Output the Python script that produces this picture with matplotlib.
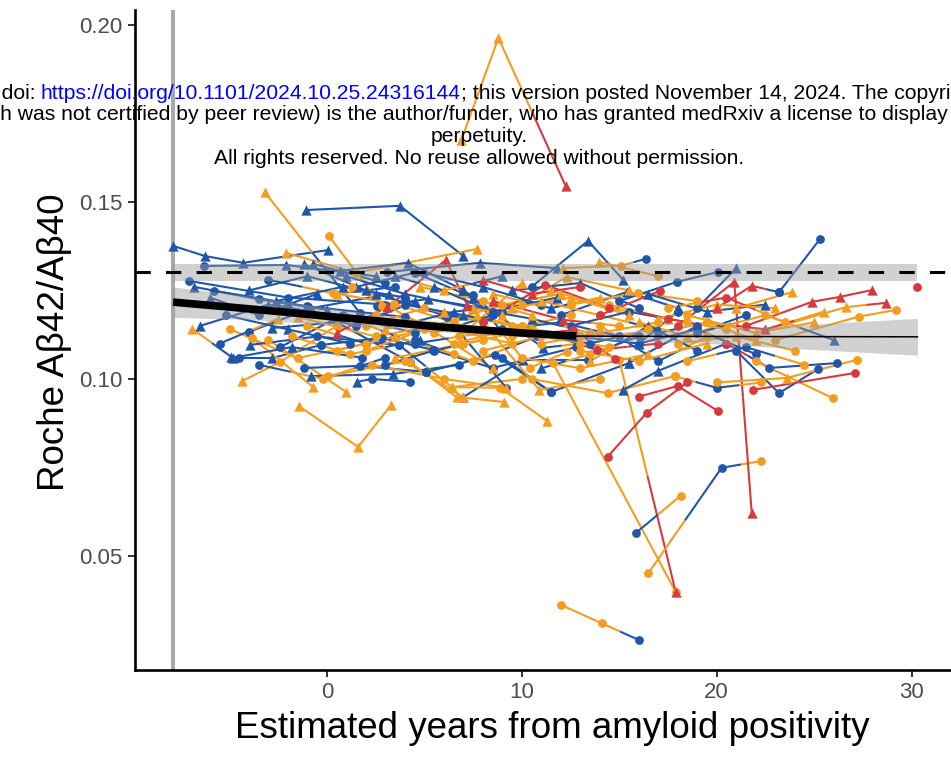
import matplotlib.pyplot as plt
from matplotlib.collections import LineCollection

plt.rcParams['font.family'] = ['Liberation Sans', 'DejaVu Sans']

# colour per visit (b = blue, o = orange, r = red) and marker per visit (c = circle, t = triangle)
palette = {'b': '#1f56a8', 'o': '#f49d1e', 'r': '#d63a3c'}
shapes = {'c': 'o', 't': '^'}

# one entry per participant trajectory
traj_x = [
    [-7.9, -6.25, -4.3, 0.05], [-7.1, -2.0, 3.0], [-5.8, -1.0, 4.0], [-6.3, -2.1, 2.5],
    [-6.9, -4.9], [-4.5, -2.8, -0.3], [-4.35, -2.4, 0.5], [-1.45, 1.6, 3.3],
    [-3.0, 1.0], [-3.85, -0.7], [-1.2, 1.7, 5.1], [-0.8, 3.4, 6.8],
    [-0.3, 2.8, 5.45], [-5.0, -1.5, 2.0], [-3.95, -0.5, 3.7], [-2.8, 0.5, 4.25],
    [-3.2, 1.7], [-1.1, 3.75, 7.0], [-2.1, 1.5, 7.7], [-1.2, 2.0, 6.0],
    [-0.7, 3.0], [-4.0, -0.8, 3.2], [-6.5, -3.0, 1.0], [-5.5, -2.5],
    [-2.4, 0.8, 4.5], [-6.0, -3.5, -0.5], [-1.5, 2.5, 5.5], [-4.0, -1.0, 2.5],
    [-3.0, 0.5, 3.5], [-2.0, 1.5, 4.5], [-1.0, 2.0, 5.0], [0.1, 2.8],
    [0.67, 4.15, 7.0], [3.1, 7.85, 11.8], [0.05, 4.0, 7.0], [1.55, 2.3, 4.25],
    [0.3, 3.45, 6.5], [1.3, 5.0, 8.5], [0.5, 3.1, 6.1, 7.2], [2.55, 5.2, 9.0],
    [1.0, 4.5, 8.0], [2.0, 5.5, 9.5], [2.3, 6.0, 9.2], [3.7, 6.4, 10.0],
    [4.25, 6.65, 9.1], [5.1, 8.6, 11.5], [5.45, 8.5, 12.8], [6.15, 9.2],
    [9.0, 11.5, 15.5], [7.0, 10.05, 13.4], [6.4, 8.9, 11.3], [7.0, 11.1, 13.0],
    [7.5, 10.4, 12.3], [7.7, 10.9, 14.0], [4.8, 8.0, 10.5], [5.5, 9.0, 12.0],
    [6.0, 9.5, 13.0], [3.0, 6.5, 10.0], [4.5, 7.5, 10.8], [2.0, 5.0, 8.0],
    [6.8, 10.0], [8.0, 11.2, 14.5], [8.5, 12.1, 15.0], [9.5, 12.65, 14.8],
    [10.0, 13.85, 17.0], [11.6, 17.9], [15.0, 17.9], [6.9, 8.8, 12.25],
    [9.0, 12.3, 15.5], [9.5, 13.0, 16.0], [10.5, 13.4, 15.2], [12.1, 15.1, 16.35],
    [13.95, 17.0], [11.0, 14.0, 17.0], [10.5, 14.4, 17.85], [12.0, 14.1, 16.0],
    [15.85, 18.15], [16.5, 20.25, 22.25], [14.4, 16.4, 18.5], [15.2, 17.0, 20.5],
    [15.5, 19.0], [12.0, 15.4, 18.0], [12.5, 15.95, 19.0], [15.0, 17.95, 20.05],
    [14.0, 17.1], [16.0, 18.0, 20.05], [18.0, 20.9, 21.8], [19.0, 21.0],
    [20.0, 21.8, 23.2], [23.2, 25.3], [21.0, 23.85], [21.5, 24.9, 26.35, 27.95],
    [22.0, 26.65, 28.7], [23.0, 27.3, 29.2], [30.3], [20.5, 22.7, 26.2],
    [21.0, 23.2, 25.2], [22.0, 25.95], [21.85, 27.1], [20.0, 23.6, 27.2],
    [17.85, 20.0, 22.3], [18.0, 21.0, 24.0], [17.0, 19.5, 22.0], [16.0, 18.5, 21.5],
    [18.5, 22.0, 25.0], [19.0, 22.5, 26.0], [14.0, 17.0, 19.5], [13.5, 16.5, 19.0],
    [16.5, 19.5, 22.5], [17.5, 20.5, 23.5], [12.8, 16.0, 18.0], [1.5, 4.5, 7.5],
    [3.5, 6.0, 9.0], [5.0, 8.0, 11.0], [8.5, 11.5, 14.0], [9.0, 12.0, 15.0],
    [10.0, 13.0, 16.5], [11.0, 14.0, 17.0], [-6.8, -3.5, 0.0], [-5.2, -2.0, 1.2],
    [-4.8, -1.8, 1.8], [-3.5, -0.2, 3.0], [-2.6, 0.8, 4.0], [-1.8, 1.2, 4.8],
    [0.5, 3.5, 6.5], [1.0, 4.0, 7.5], [2.5, 5.5, 8.5], [3.5, 7.0, 10.5],
    [4.0, 7.0, 10.0], [5.5, 8.5, 11.8], [6.5, 9.5, 12.5], [7.5, 10.5, 13.5],
    [8.0, 11.0, 14.5], [9.5, 12.5, 15.5], [10.5, 13.5, 16.5], [11.5, 14.5, 17.5],
    [12.5, 15.5, 18.5], [13.0, 16.0, 19.5], [14.5, 17.5, 20.5], [16.0, 19.0, 22.0],
    [17.0, 20.0, 23.0], [18.5, 21.5, 24.5], [19.5, 22.5, 25.5], [11.0, 13.5, 16.0],
    [8.0, 10.5, 13.0], [3.0, 5.5, 8.0],
]
traj_y = [
    [.1376, .1347, .1328, .1364], [.1277, .1230, .1210], [.1249, .1205, .1175], [.1319, .1322, .1290],
    [.1141, .1062], [.1059, .1059, .1096], [.0994, .1048, .1150], [.0924, .0808, .0927],
    [.1110, .0963], [.1116, .0977], [.1031, .1037, .1020], [.1008, .1014, .1040],
    [.1096, .1116, .1082], [.1141, .1059, .1100], [.1096, .1120, .1096], [.1144, .1160, .1048],
    [.1528, .1186], [.1477, .1489, .1347], [.1356, .1300, .1367], [.1325, .1250, .1180],
    [.1325, .1270], [.1133, .1200, .1240], [.1150, .1210, .1175], [.1100, .1170],
    [.1090, .1180, .1130], [.1230, .1180, .1240], [.1175, .1120, .1150], [.1250, .1290, .1240],
    [.1280, .1240, .1260], [.1200, .1150, .1220], [.1150, .1100, .1140], [.1404, .1206],
    [.1305, .1328, .1251], [.1302, .1328, .1313], [.1008, .1050, .0949], [.0992, .1000, .0992],
    [.1243, .1212, .1160], [.1260, .1150, .1031], [.1130, .1203, .1336, .1209], [.1206, .1226, .1190],
    [.1175, .1100, .1130], [.1080, .1150, .1100], [.1040, .1000, .0975], [.1096, .0977, .1000],
    [.1048, .0949, .0935], [.1020, .1068, .0963], [.1082, .1031, .1090], [.1175, .0975],
    [.1060, .0963, .1045], [.0949, .1054, .1054], [.0977, .0975, .0881], [.1251, .1088, .1100],
    [.1237, .1031, .1076], [.1180, .0969, .1000], [.1260, .1220, .1180], [.1150, .1210, .1240],
    [.1190, .1150, .1120], [.1140, .1190, .1210], [.1110, .1050, .1120], [.1150, .1200, .1160],
    [.1120, .1270], [.1160, .1266, .1200], [.1220, .1167, .1150], [.1120, .1138, .1056],
    [.1150, .1082, .1100], [.1045, .0398], [.1054, .0398], [.1675, .1963, .1545],
    [.1180, .1288, .1250], [.1250, .1271, .1200], [.1260, .1390, .1280], [.1313, .1320, .1339],
    [.1331, .1290], [.1100, .1130, .1160], [.1000, .0960, .1008], [.0362, .0310, .0263],
    [.0565, .0670], [.0452, .0749, .0768], [.0780, .0904, .0990], [.0969, .1023, .1100],
    [.1045, .1150], [.1180, .1246, .1200], [.1210, .1243, .1220], [.1220, .1274, .1302],
    [.1180, .1249], [.0950, .0980, .0910], [.1150, .1274, .0621], [.1200, .1313],
    [.1200, .1263, .1245], [.1245, .1395], [.1200, .1245], [.1150, .1218, .1232, .1251],
    [.1130, .1203, .1215], [.1110, .1176, .1195], [.1260], [.1100, .1031, .1045],
    [.1080, .0960, .1028], [.1050, .0946], [.0969, .1017], [.0990, .1003, .1054],
    [.1008, .0975, .0990], [.1100, .1120, .1080], [.1130, .1160, .1110], [.1160, .1120, .1180],
    [.1180, .1130, .1160], [.1130, .1180, .1110], [.1150, .1050, .1120], [.1050, .1150, .1080],
    [.1240, .1190, .1210], [.1200, .1230, .1160], [.1120, .1100, .1190], [.1260, .1300, .1230],
    [.1290, .1250, .1290], [.1300, .1260, .1210], [.1240, .1200, .1230], [.1140, .1160, .1120],
    [.1060, .1030, .1070], [.1220, .1180, .1140], [.1260, .1225, .1195], [.1180, .1140, .1100],
    [.1060, .1090, .1060], [.1040, .1000, .1060], [.1220, .1260, .1230], [.1120, .1070, .1110],
    [.1080, .1120, .1070], [.1290, .1240, .1200], [.1180, .1130, .1180], [.1060, .1100, .1140],
    [.1210, .1180, .1150], [.1260, .1190, .1230], [.1100, .1140, .1180], [.1200, .1170, .1130],
    [.1080, .1120, .1090], [.1200, .1230, .1180], [.1130, .1100, .1140], [.1250, .1200, .1170],
    [.1150, .1190, .1160], [.1080, .1050, .1100], [.1210, .1170, .1140], [.1100, .1140, .1070],
    [.1170, .1210, .1200], [.1050, .1090, .1040], [.1160, .1140, .1190], [.1030, .1070, .1120],
    [.1280, .1240, .1260], [.1040, .1080, .1110],
]
traj_col = [
    'bbbb', 'bbb', 'bbb', 'bbb', 'ob', 'bbb', 'ooo', 'ooo',
    'oo', 'oo', 'bbb', 'bbb', 'bbb', 'ooo', 'bbb', 'bbb',
    'ob', 'bbb', 'ooo', 'bbb', 'bb', 'bbb', 'bbb', 'bo',
    'bbb', 'bbb', 'ooo', 'bbb', 'bob', 'bbb', 'obo', 'oo',
    'bbb', 'bbb', 'ooo', 'bbb', 'ooo', 'ooo', 'rrrr', 'bbb',
    'obo', 'ooo', 'ooo', 'boo', 'ooo', 'bbb', 'bbb', 'bb',
    'bbb', 'bbb', 'ooo', 'bbo', 'boo', 'ooo', 'ooo', 'ooo',
    'ooo', 'obo', 'bob', 'ooo', 'oo', 'rrr', 'rro', 'orr',
    'orr', 'oo', 'or', 'oor', 'ooo', 'bbb', 'bbb', 'oob',
    'oo', 'ooo', 'ooo', 'oob', 'bo', 'obo', 'rrr', 'bbb',
    'bb', 'bbb', 'ooo', 'bbb', 'rr', 'rrr', 'rrr', 'bb',
    'rrb', 'bb', 'oo', 'rrrr', 'oor', 'ooo', 'r', 'rbb',
    'bbb', 'oo', 'rr', 'ooo', 'obo', 'ooo', 'boo', 'oob',
    'ooo', 'bob', 'obo', 'obb', 'bbb', 'oro', 'bbb', 'bbb',
    'bob', 'bbb', 'obo', 'bbb', 'ooo', 'oob', 'bbb', 'bbb',
    'bbb', 'bob', 'bbb', 'oob', 'ooo', 'bbb', 'oob', 'ooo',
    'bbo', 'bbb', 'ooo', 'obo', 'ooo', 'ooo', 'obo', 'ooo',
    'bbo', 'ooo', 'oro', 'bbb', 'ooo', 'obo', 'oro', 'bob',
    'rrr', 'bbo',
]
traj_mark = [
    'tttt', 'ccc', 'ccc', 'ctt', 'tt', 'ctc', 'tcc', 'ttt',
    'ct', 'ct', 'ccc', 'ttc', 'ccc', 'ccc', 'tcc', 'tcc',
    'tc', 'ttt', 'tct', 'ttc', 'tc', 'ctt', 'ttc', 'ct',
    'ccc', 'tct', 'tcc', 'ttt', 'ctc', 'cct', 'ccc', 'cc',
    'ttt', 'ctt', 'cct', 'tcc', 'ccc', 'cct', 'tttt', 'ctc',
    'ccc', 'ccc', 'cct', 'ctc', 'ctt', 'ccc', 'ccc', 'cc',
    'cct', 'ttc', 'tct', 'ttc', 'ccc', 'ttc', 'tct', 'cct',
    'tcc', 'ttc', 'ccc', 'ccc', 'ct', 'ccc', 'ttc', 'ccc',
    'ccc', 'cc', 'ct', 'ttt', 'ttt', 'ttc', 'ctt', 'tcc',
    'tc', 'ccc', 'ccc', 'ccc', 'cc', 'ccc', 'ccc', 'ttc',
    'tc', 'ctt', 'ccc', 'ccc', 'cc', 'ccc', 'ctt', 'ct',
    'ttc', 'cc', 'tt', 'cttt', 'ttt', 'ccc', 'c', 'ccc',
    'ccc', 'cc', 'cc', 'ctc', 'ccc', 'ctc', 'tct', 'ttc',
    'ctt', 'cct', 'ccc', 'ttc', 'ttt', 'ccc', 'ctc', 'tct',
    'ttt', 'ctc', 'ttt', 'ccc', 'cct', 'tct', 'tct', 'ctc',
    'ttc', 'ccc', 'ttc', 'cct', 'ctc', 'ttt', 'ccc', 'tcc',
    'ctc', 'tct', 'ccc', 'ttc', 'ccc', 'ttt', 'ccc', 'tct',
    'ccc', 'cct', 'ccc', 'ccc', 'ttt', 'ccc', 'ctt', 'tcc',
    'ttc', 'ccc',
]

# fitted trajectory (thick within observed range, thin extrapolation) and its band
fit_x = [-7.9, -5, -2, 0, 2, 4, 6, 8, 10, 12.8]
fit_y = [0.1217, 0.1203, 0.1188, 0.1177, 0.1167, 0.1156, 0.1146, 0.1138, 0.1130, 0.1121]
ext_x = [12.8, 20, 30.3]
ext_y = [0.1121, 0.1120, 0.1119]
band_x = [-7.9, -4, 0, 4, 8, 12, 16, 20, 24, 30.3]
band_lo = [0.1174, 0.1168, 0.1153, 0.1139, 0.1126, 0.1111, 0.1106, 0.1099, 0.1086, 0.1067]
band_hi = [0.1260, 0.1234, 0.1201, 0.1173, 0.1150, 0.1133, 0.1134, 0.1141, 0.1152, 0.1171]

# reference level (amyloid positivity threshold) with its band
ref_level = 0.1302
ref_lo = 0.1277
ref_hi = 0.1325
ref_x = [-7.9, 30.3]
onset_x = -7.9

xticks = [0, 10, 20, 30]
yticks = [0.05, 0.10, 0.15, 0.20]

fig = plt.figure(figsize=(9.51, 7.6), dpi=100)
ax = fig.add_axes([135 / 951, 1 - 670 / 760, (970 - 135) / 951, 660 / 760])

ax.axvline(onset_x, color='#a8a9ac', lw=2.9, zorder=1)

# segments coloured half by each end point
segs, seg_cols = [], []
for xs, ys, cs in zip(traj_x, traj_y, traj_col):
    for i in range(len(xs) - 1):
        mx, my = (xs[i] + xs[i + 1]) / 2, (ys[i] + ys[i + 1]) / 2
        segs.append([(xs[i], ys[i]), (mx, my)])
        seg_cols.append(palette[cs[i]])
        segs.append([(mx, my), (xs[i + 1], ys[i + 1])])
        seg_cols.append(palette[cs[i + 1]])
ax.add_collection(LineCollection(segs, colors=seg_cols, linewidths=1.5, zorder=2))

for c in palette:
    for m in shapes:
        px, py = [], []
        for xs, ys, cs, ms in zip(traj_x, traj_y, traj_col, traj_mark):
            for x, y, cc, mm in zip(xs, ys, cs, ms):
                if cc == c and mm == m:
                    px.append(x)
                    py.append(y)
        ax.scatter(px, py, s=40 if m == 'c' else 55, marker=shapes[m],
                   color=palette[c], linewidths=0, zorder=3)

ax.fill_between(band_x, band_lo, band_hi, color='#999999', alpha=0.45, lw=0, zorder=4)
ax.fill_between(ref_x, ref_lo, ref_hi, color='#999999', alpha=0.45, lw=0, zorder=4)
ax.plot(fit_x, fit_y, color='black', lw=5.5, solid_capstyle='butt', zorder=5)
ax.plot(ext_x, ext_y, color='black', lw=1.1, zorder=5)
ax.axhline(ref_level, color='black', lw=2.2, ls=(0, (5, 5)), zorder=5)

ax.set_xlim(-9.85, 33.0)
ax.set_ylim(0.0178, 0.2042)
ax.set_xticks(xticks)
ax.set_xticklabels([str(t) for t in xticks])
ax.set_yticks(yticks)
ax.set_yticklabels(['%.2f' % t for t in yticks])
for s in ['top', 'right']:
    ax.spines[s].set_visible(False)
for s in ['left', 'bottom']:
    ax.spines[s].set_linewidth(1.9)
ax.tick_params(length=5, width=1.4, color='#333333', labelsize=16,
               labelcolor='#4d4d4d', pad=4)

fig.text(552 / 951, 1 - 728 / 760, 'Estimated years from amyloid positivity',
         fontsize=26.5, ha='center', va='center')
fig.text(55 / 951, 1 - 342 / 760, 'Roche Aβ42/Aβ40', fontsize=26.5,
         rotation=90, ha='center', va='center')

# medRxiv watermark
wm = 15.2
y1 = 1 - 99 / 760
fig.text(41 / 951, y1, 'medRxiv preprint doi: ', fontsize=wm, ha='right', va='baseline')
url = fig.text(41 / 951, y1, 'https://doi.org/10.1101/2024.10.25.24316144', fontsize=wm,
               color='#0000ff', ha='left', va='baseline')
fig.canvas.draw()
bb = url.get_window_extent()
fig.text(bb.x1 / fig.bbox.width, y1,
         '; this version posted November 14, 2024. The copyright holder for this preprint',
         fontsize=wm, ha='left', va='baseline')
fig.text(-49 / 951, 1 - 120.5 / 760,
         '(which was not certified by peer review) is the author/funder, who has granted '
         'medRxiv a license to display the preprint in', fontsize=wm, ha='left', va='baseline')
fig.text(479 / 951, 1 - 141.5 / 760, 'perpetuity.', fontsize=wm, ha='center', va='baseline')
fig.text(479 / 951, 1 - 163.5 / 760, 'All rights reserved. No reuse allowed without permission.',
         fontsize=wm, ha='center', va='baseline')

fig.savefig('out.png', dpi=100)
